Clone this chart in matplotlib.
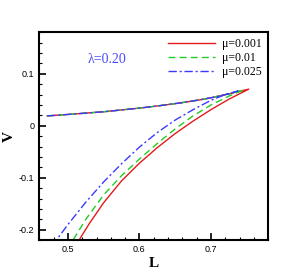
import numpy as np
import matplotlib
matplotlib.use("Agg")
import matplotlib.pyplot as plt
from matplotlib.ticker import MultipleLocator

# ----------------------------
# data (upper branch -> cusp -> lower branch)
# ----------------------------
upper_L = [0.471, 0.50, 0.55, 0.60, 0.63, 0.657, 0.685, 0.704, 0.727]
upper_V = [0.019, 0.0218, 0.027, 0.034, 0.039, 0.044, 0.050, 0.055, 0.062]

red_L = [0.753, 0.725, 0.700, 0.675, 0.650, 0.625, 0.600, 0.575, 0.550, 0.530, 0.5155]
red_V = [0.0706, 0.051, 0.031, 0.009, -0.015, -0.042, -0.072, -0.106, -0.148, -0.188, -0.220]

green_L = [0.746, 0.725, 0.700, 0.675, 0.650, 0.625, 0.600, 0.575, 0.550, 0.525, 0.507]
green_V = [0.069, 0.057, 0.040, 0.019, -0.006, -0.034, -0.064, -0.096, -0.133, -0.180, -0.220]

blue_L = [0.738, 0.720, 0.700, 0.675, 0.650, 0.625, 0.600, 0.575, 0.550, 0.525, 0.500, 0.486]
blue_V = [0.067, 0.060, 0.049, 0.031, 0.011, -0.013, -0.041, -0.073, -0.108, -0.147, -0.190, -0.216]

labels = ["\u03bc=0.001", "\u03bc=0.01", "\u03bc=0.025"]
colors = ["#e41a1c", "#22cc22", "#3a3aff"]
styles = ["-", (0, (5, 3)), (0, (6, 2, 1.5, 2))]

fig = plt.figure(figsize=(3.05, 2.71), dpi=100)
ax = fig.add_axes([0.129, 0.114, 0.750, 0.767])

lowers = [(red_L, red_V), (green_L, green_V), (blue_L, blue_V)]
for (lL, lV), lab, c, ls in zip(lowers, labels, colors, styles):
    # upper branch up to the cusp, then back down the lower branch
    keep = [i for i, x in enumerate(upper_L) if x < lL[0]]
    L = [upper_L[i] for i in keep] + list(lL)
    V = [upper_V[i] for i in keep] + list(lV)
    ax.plot(L, V, color=c, ls=ls, lw=1.0, label=lab)

ax.set_xlim(0.46, 0.78)
ax.set_ylim(-0.22, 0.18)
ax.xaxis.set_major_locator(MultipleLocator(0.1))
ax.xaxis.set_minor_locator(MultipleLocator(0.02))
ax.yaxis.set_major_locator(MultipleLocator(0.1))
ax.yaxis.set_minor_locator(MultipleLocator(0.02))
ax.tick_params(which="both", direction="in", top=False, right=False,
               labelsize=6.5, width=0.8)
ax.tick_params(which="major", length=5, width=1.2)
ax.tick_params(which="minor", length=2.5)
ax.xaxis.set_major_formatter(plt.FuncFormatter(lambda v, p: f"{v:g}"))
ax.yaxis.set_major_formatter(plt.FuncFormatter(lambda v, p: f"{v:g}" if abs(v) > 1e-9 else "0"))
for lbl in ax.get_xticklabels() + ax.get_yticklabels():
    lbl.set_family("Liberation Sans")
for s in ax.spines.values():
    s.set_linewidth(1.5)

ax.set_xlabel("L", family="Liberation Serif", fontweight="bold", fontsize=11, labelpad=2)
ax.set_ylabel("V", family="Liberation Serif", fontweight="bold", fontsize=11, labelpad=2)

ax.text(0.527, 0.127, "\u03bb=0.20", color="#4a4aff", family="Liberation Serif",
        fontsize=10, va="center")

ax.legend(loc="upper right", frameon=False, prop={"family": "Liberation Serif", "size": 8.5},
          handlelength=4.0, labelspacing=0.15, borderaxespad=0.1, handletextpad=0.6)

fig.savefig("out.png", dpi=100)
